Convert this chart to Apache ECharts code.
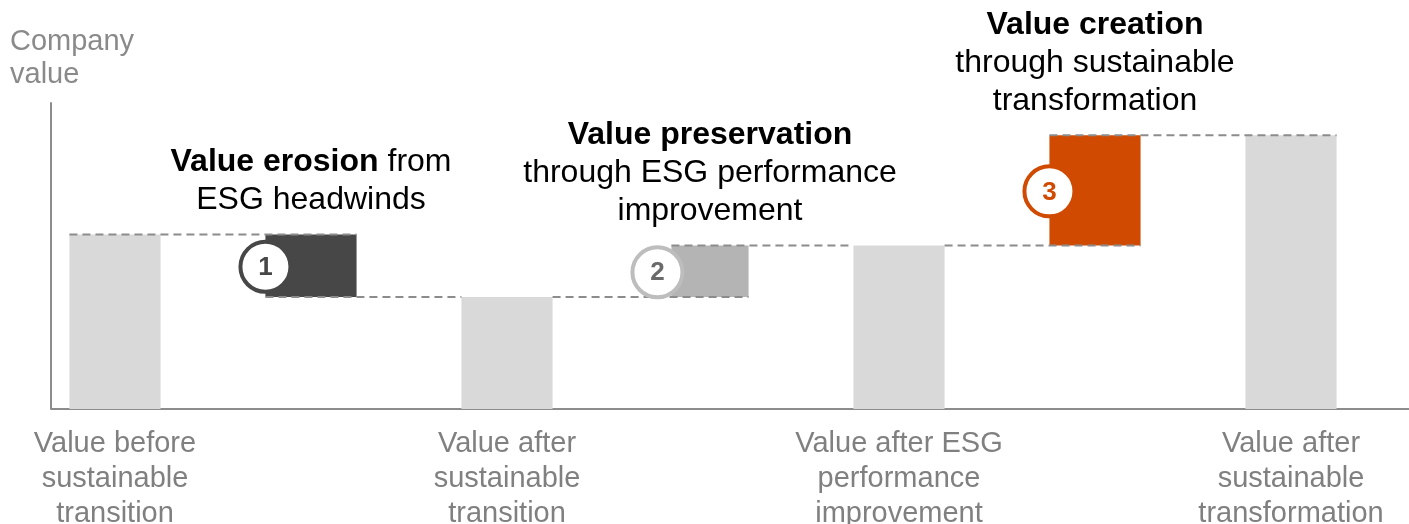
<!DOCTYPE html>
<html>
<head>
<meta charset="utf-8">
<script src="https://cdn.jsdelivr.net/npm/echarts@6/dist/echarts.min.js"></script>
<style>
html,body{margin:0;padding:0;background:#fff;overflow:hidden;}
#chart{width:1409px;height:524px;}
</style>
</head>
<body>
<div id="chart"></div>
<script>
// ---- data ----
const categories = [
  "Value before\nsustainable\ntransition",
  "Value erosion",
  "Value after\nsustainable\ntransition",
  "Value preservation",
  "Value after ESG\nperformance\nimprovement",
  "Value creation",
  "Value after\nsustainable\ntransformation"
];
const totalValues = [57, 36.6, 53.4, 89.5];
const stepChanges = [-20.4, 16.8, 36.1];
const stepNumbers = ["1", "2", "3"];
const stepNotes = [
  "{b|Value erosion} from\nESG headwinds",
  "{b|Value preservation}\nthrough ESG performance\nimprovement",
  "{b|Value creation}\nthrough sustainable\ntransformation"
];
const yAxisTitle = "Company\nvalue";

// ---- styles ----
const FONT = "'Liberation Sans', Arial, Helvetica, sans-serif";
const BAR_FRAC = 0.465;
const stepFill = ['#474747', '#b4b4b4', '#d04a02'];
const ringColor = ['#474747', '#bdbdbd', '#d04a02'];
const digitColor = ['#474747', '#6b6b6b', '#d04a02'];
const stepInset = [0, 14, 0];
const dashColor = '#8c8c8c';
const axisColor = '#8c8c8c';

// ---- build series data ----
const barData = categories.map(() => '-');
totalValues.forEach((v, k) => { barData[2 * k] = v; });
const stepData = stepChanges.map((d, k) => [2 * k + 1, totalValues[k], totalValues[k] + d, k]);

function renderStep(params, api) {
  const c = api.value(0), s = api.value(1), e = api.value(2), k = api.value(3);
  const band = api.size([1, 0])[0];
  const bw = band * BAR_FRAC;
  const cx = api.coord([c, 0])[0];
  const prevCx = api.coord([c - 1, 0])[0];
  const nextCx = api.coord([c + 1, 0])[0];
  const yS = api.coord([c, s])[1];
  const yE = api.coord([c, e])[1];
  const left = cx - bw / 2, right = cx + bw / 2;
  const inset = stepInset[k];
  const top = Math.min(yS, yE), h = Math.abs(yS - yE);
  const dash = { stroke: dashColor, lineWidth: 2, lineDash: [8, 5] };
  const isFirst = k === 0, isLast = k === stepChanges.length - 1;
  const sX1 = isFirst ? prevCx - bw / 2 : prevCx + bw / 2;
  const eX2 = isLast ? nextCx + bw / 2 : nextCx - bw / 2;
  return {
    type: 'group',
    children: [
      { type: 'rect', shape: { x: left + inset, y: top, width: bw - inset, height: h }, style: { fill: stepFill[k] } },
      { type: 'line', shape: { x1: sX1, y1: yS, x2: right, y2: yS }, style: dash },
      { type: 'line', shape: { x1: left + inset, y1: yE, x2: eX2, y2: yE }, style: dash },
      { type: 'circle', shape: { cx: left, cy: (yS + yE) / 2 + 1, r: 25 }, style: { fill: '#fff', stroke: ringColor[k], lineWidth: 4 } },
      { type: 'text', style: { text: stepNumbers[k], x: left, y: (yS + yE) / 2 + 2, align: 'center', verticalAlign: 'middle',
          fill: digitColor[k], fontSize: 26, fontWeight: 'bold', fontFamily: FONT } },
      { type: 'text', style: { text: stepNotes[k], x: (left + inset + right) / 2, y: top - 15, align: 'center', verticalAlign: 'bottom',
          fill: '#000', fontSize: 32, lineHeight: 38, fontFamily: FONT,
          rich: { b: { fontWeight: 'bold', fontSize: 32, lineHeight: 38, fontFamily: FONT, fill: '#000' } } } }
    ]
  };
}

const chart = echarts.init(document.getElementById('chart'), null, { renderer: 'canvas', width: 1409, height: 524 });
chart.setOption({
  animation: false,
  backgroundColor: '#fff',
  grid: { left: 17, right: 20, top: 103, bottom: 115, containLabel: false, outerBoundsMode: 'none' },
  xAxis: {
    type: 'category',
    data: categories,
    axisLine: { show: false },
    axisTick: { show: false },
    axisLabel: {
      interval: 0,
      margin: 17,
      color: '#808080',
      fontSize: 29,
      lineHeight: 35,
      fontFamily: FONT,
      formatter: (v, i) => (i % 2 === 0 ? v : '')
    }
  },
  yAxis: {
    type: 'value',
    min: 0,
    max: 100,
    offset: -34,
    axisLine: { show: true, lineStyle: { color: axisColor, width: 2 } },
    axisTick: { show: false },
    axisLabel: { show: false },
    splitLine: { show: false }
  },
  series: [
    { type: 'bar', data: barData, barWidth: (BAR_FRAC * 100) + '%', itemStyle: { color: '#d9d9d9' }, z: 2 },
    { type: 'custom', data: stepData, encode: { x: 0, y: [1, 2] }, renderItem: renderStep, z: 3 }
  ]
});
const y0 = chart.convertToPixel({ yAxisIndex: 0 }, 0);
chart.setOption({
  graphic: [
    { type: 'line', shape: { x1: 51, y1: y0, x2: 1409, y2: y0 }, style: { stroke: axisColor, lineWidth: 2 }, z: 1 },
    { type: 'text', left: 10, top: 25, style: { text: yAxisTitle, fill: '#8a8a8a', fontSize: 29, lineHeight: 33, fontFamily: FONT } }
  ]
});
</script>
</body>
</html>
